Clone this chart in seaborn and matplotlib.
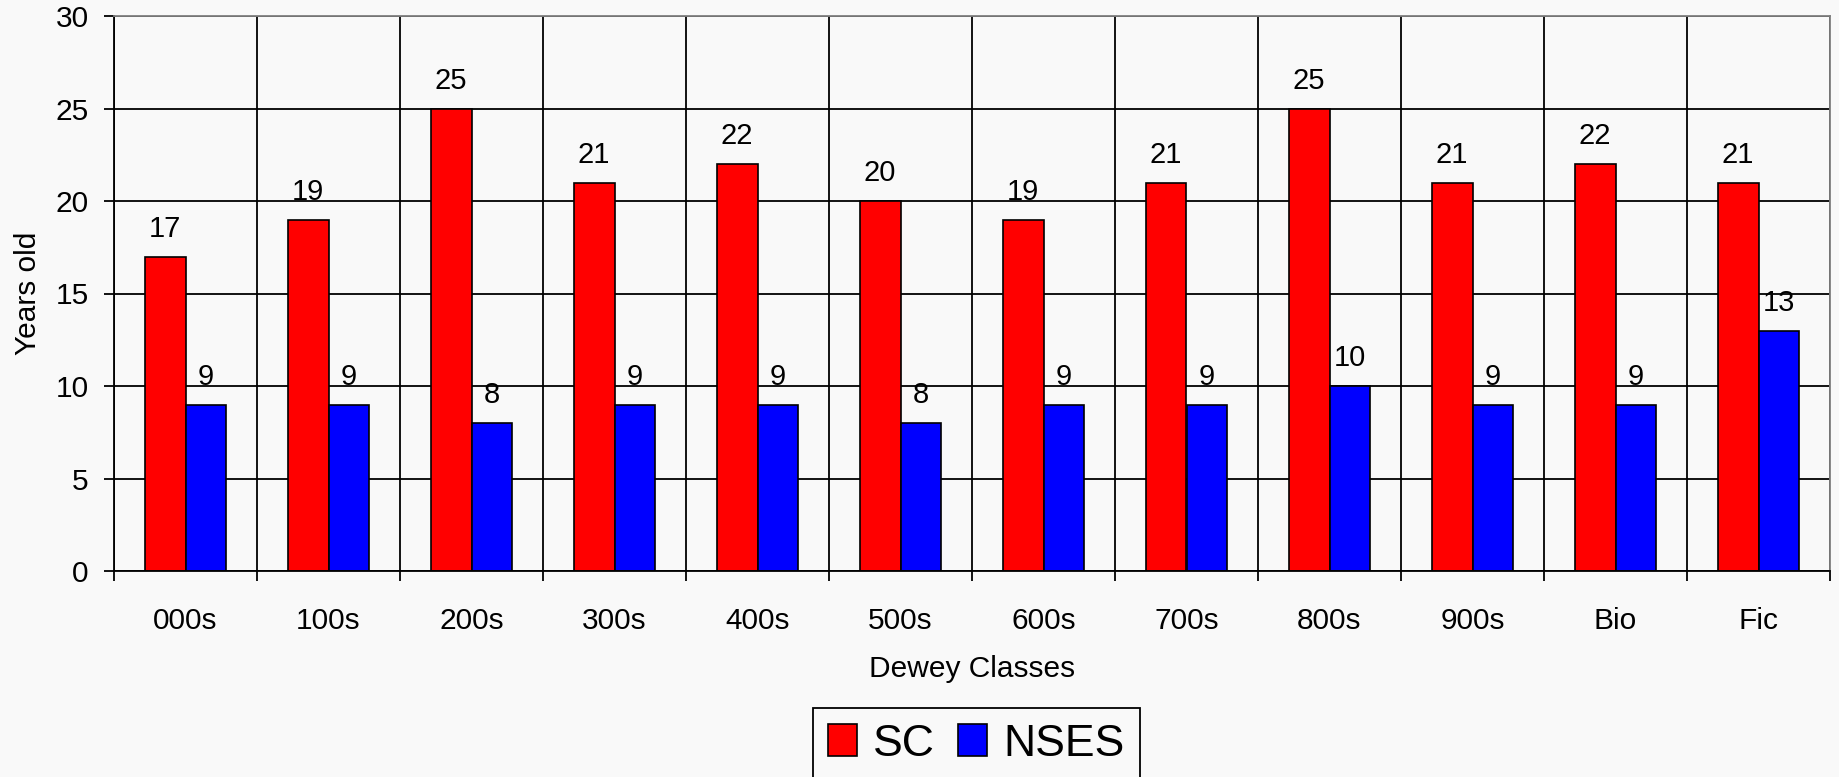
import matplotlib
matplotlib.use('Agg')
import matplotlib.pyplot as plt
import seaborn as sns
import pandas as pd
import numpy as np

categories = ['000s', '100s', '200s', '300s', '400s', '500s', '600s', '700s', '800s', '900s', 'Bio', 'Fic']
sc_values = [17, 19, 25, 21, 22, 20, 19, 21, 25, 21, 22, 21]
nses_values = [9, 9, 8, 9, 9, 8, 9, 9, 10, 9, 9, 13]
series_names = ['SC', 'NSES']
series_colors = ['#ff0000', '#0000ff']
y_ticks = [0, 5, 10, 15, 20, 25, 30]
x_title = 'Dewey Classes'
y_title = 'Years old'

df = pd.DataFrame({
    x_title: categories * 2,
    y_title: sc_values + nses_values,
    'Series': [series_names[0]] * len(categories) + [series_names[1]] * len(categories),
})

sns.set_theme(style='white', rc={
    'text.color': 'black', 'axes.labelcolor': 'black',
    'xtick.color': 'black', 'ytick.color': 'black',
})
plt.rcParams['font.family'] = ['Liberation Sans', 'DejaVu Sans']

bg = '#f9f9f9'
W, H = 1839, 777
fig = plt.figure(figsize=(W / 100, H / 100), dpi=100, facecolor=bg)
ax = fig.add_axes([114 / W, 1 - 571 / H, (1830 - 114) / W, (571 - 16) / H])
ax.set_facecolor(bg)

sns.barplot(data=df, x=x_title, y=y_title, hue='Series', order=categories,
            hue_order=series_names, palette=series_colors, saturation=1,
            width=0.573, gap=0, edgecolor='black', linewidth=1.2,
            errorbar=None, ax=ax, legend=True)

for cont in ax.containers:
    ax.bar_label(cont, fmt='%g', padding=10, fontsize=21)

ax.set_xlim(-0.5, len(categories) - 0.5)
ax.set_ylim(0, 30)
ax.set_yticks(y_ticks)
ax.set_xticks(np.arange(-0.5, len(categories), 1), minor=True)
ax.tick_params(axis='y', which='major', left=True, length=7.2, width=1.3, pad=11, labelsize=21.5)
ax.tick_params(axis='x', which='minor', bottom=True, length=7.2, width=1.3, direction='out')
ax.tick_params(axis='x', which='major', bottom=True, length=0, pad=26, labelsize=21.5)
ax.grid(True, axis='y', which='major', color='black', linewidth=1.3)
ax.grid(True, axis='x', which='minor', color='black', linewidth=1.3)
ax.set_axisbelow(True)

for s in ['left', 'bottom']:
    ax.spines[s].set_color('black')
    ax.spines[s].set_linewidth(1.3)
for s in ['top', 'right']:
    ax.spines[s].set_color('#808080')
    ax.spines[s].set_linewidth(1.3)

ax.set_xlabel(x_title, fontsize=21.5)
ax.set_ylabel(y_title, fontsize=21.5)
ax.xaxis.set_label_coords(0.5, -0.152)
ax.yaxis.set_label_coords(-0.042, 0.5)

handles, labels = ax.get_legend_handles_labels()
ax.get_legend().remove()
leg = fig.legend(handles, labels, loc='upper center',
                 bbox_to_anchor=(976.5 / W, 1 - 708 / H), ncol=2, fontsize=32,
                 frameon=True, fancybox=False, edgecolor='black', facecolor=bg,
                 framealpha=1, handlelength=0.65, handleheight=0.72,
                 handletextpad=0.36, columnspacing=0.52, borderpad=0.35,
                 borderaxespad=0)
leg.get_frame().set_linewidth(1.3)

fig.savefig('out.png', dpi=100, facecolor=bg)
